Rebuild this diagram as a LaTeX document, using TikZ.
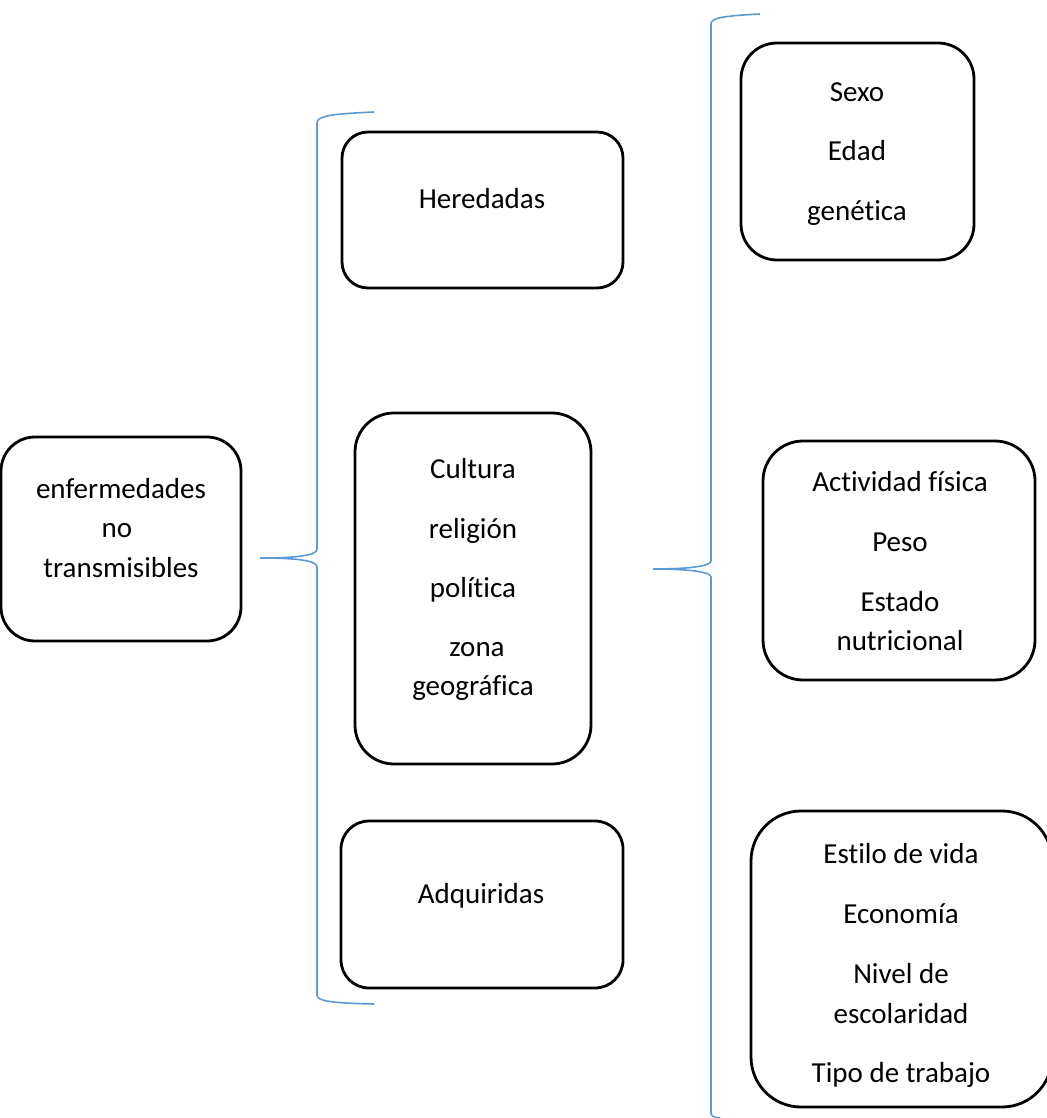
\documentclass[tikz,border=0pt]{standalone}
\usepackage{fontspec}
\setmainfont{Carlito}[Ligatures={NoCommon,NoContextual},RawFeature={-liga;-clig;-dlig;-calt}]
\newcommand{\tisep}{t\kern0pt i}
\definecolor{bracecol}{HTML}{5B9BD5}
\begin{document}
\begin{tikzpicture}[x=1pt,y=-1pt,
  box/.style={draw=black, line width=2.8pt, rectangle, inner sep=0pt},
  txt/.style={anchor=base, inner sep=0pt, font=\fontsize{29pt}{38pt}\selectfont},
  brace/.style={draw=bracecol, line width=1.6pt}]
\useasboundingbox (0,0) rectangle (1046,1118);
% boxes
\node[box, minimum width=240pt, minimum height=204pt, rounded corners=34pt] (enf) at (121,539) {};
\node[box, minimum width=281pt, minimum height=156pt, rounded corners=26pt] (her) at (482.5,210) {};
\node[box, minimum width=236pt, minimum height=351pt, rounded corners=39pt] (cul) at (473,588.5) {};
\node[box, minimum width=282pt, minimum height=167pt, rounded corners=28pt] (adq) at (482,904.5) {};
\node[box, minimum width=233pt, minimum height=217pt, rounded corners=36pt] (sex) at (857.5,151.5) {};
\node[box, minimum width=272pt, minimum height=239pt, rounded corners=40pt] (act) at (899,560.5) {};
\node[box, minimum width=301pt, minimum height=296pt, rounded corners=50pt] (est) at (901.5,959) {};
% texts
\node[txt] (t1) at (121,498) {enfermedades};
\node[txt] (t2) at (117,537.5) {no};
\node[txt] (t3) at (121,577) {transmisibles};
\node[txt] (t4) at (482,208) {Heredadas};
\node[txt] (t5) at (473,478) {Cultura};
\node[txt] (t6) at (473,538) {religión};
\node[txt] (t7) at (473,597) {polí\tisep ca};
\node[txt] (t8) at (477,656) {zona};
\node[txt] (t9) at (473,695) {geográfica};
\node[txt] (t10) at (481,903) {Adquiridas};
\node[txt] (t11) at (857,102) {Sexo};
\node[txt] (t12) at (857,161) {Edad};
\node[txt] (t13) at (857,220) {gené\tisep ca};
\node[txt] (t14) at (900,491) {Ac\tisep vidad física};
\node[txt] (t15) at (900,551) {Peso};
\node[txt] (t16) at (900,611) {Estado};
\node[txt] (t17) at (900,650) {nutricional};
\node[txt] (t18) at (901,863) {Es\tisep lo de vida};
\node[txt] (t19) at (901,923) {Economía};
\node[txt] (t20) at (901,983) {Nivel de};
\node[txt] (t21) at (901,1023) {escolaridad};
\node[txt] (t22) at (901,1082) {Tipo de trabajo};
% braces
\coordinate (b1top) at (374,112);
\coordinate (b1tip) at (260,558);
\coordinate (b1bot) at (374,1004);
\draw[brace] (b1top) .. controls (330,114) and (317,116) .. (317,123)
  -- (317,549) .. controls (317,555) and (300,558) .. (b1tip)
  .. controls (300,558) and (317,561) .. (317,567)
  -- (317,995) .. controls (317,1001) and (330,1003) .. (b1bot);
\coordinate (b2top) at (760,14);
\coordinate (b2tip) at (653,569);
\coordinate (b2bot) at (720,1118);
\draw[brace] (b2top) .. controls (722,16) and (711,18) .. (711,24)
  -- (711,561) .. controls (711,566) and (690,569) .. (b2tip)
  .. controls (690,569) and (711,572) .. (711,577)
  -- (711,1113) .. controls (711,1116) and (714,1117.5) .. (b2bot);
\end{tikzpicture}
\end{document}
